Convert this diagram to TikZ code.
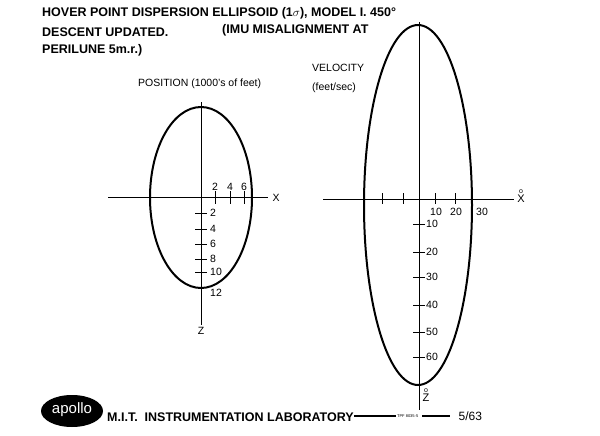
\documentclass[tikz,border=0pt]{standalone}
\usepackage{fontspec}
\setmainfont{Liberation Sans}
\begin{document}
\begin{tikzpicture}
    [
        x=1pt, y=-1pt,
        Axis/.style={line width=0.8pt},
        Curve/.style={line width=2pt},
        TickLabel/.style={font=\fontsize{10.5}{11}\selectfont, inner sep=1pt},
        DotLabel/.style={font=\fontsize{11}{9}\selectfont, inner sep=0pt, align=center},
        Heading/.style={font=\fontsize{12.5}{14}\selectfont\bfseries, anchor=west, inner sep=0pt},
        Caption/.style={font=\fontsize{10.5}{11}\selectfont, anchor=west, inner sep=0pt}
    ]
    \useasboundingbox (0,0) rectangle (600,436);

    % title
    \node[Heading] (title1) at (42,13) {HOVER POINT DISPERSION ELLIPSOID (1$\sigma$), MODEL I. 450\textdegree};
    \node[Heading] (title2) at (42,32) {DESCENT UPDATED.};
    \node[Heading] (title3) at (222,30) {(IMU MISALIGNMENT AT};
    \node[Heading] (title4) at (42,50) {PERILUNE 5m.r.)};

    % position ellipse
    \node[Caption] (position) at (138,84) {POSITION (1000's of feet)};
    \draw[Curve] (201,197.5) ellipse [x radius=51, y radius=90.5];
    \draw[Axis] (108,197) -- (268,197);
    \node[TickLabel] (posX) at (276,198) {X};
    \draw[Axis] (201,102) -- (201,325);
    \node[TickLabel] (posZ) at (201,331) {Z};
    \foreach \xx/\lab in {215/2,230/4,244/6} {
        \draw[Axis] (\xx,191) -- (\xx,204);
        \node[TickLabel] at (\xx,187) {\lab};
    }
    \foreach \yy/\lab in {213/2,229/4,244/6,259/8,272/10} {
        \draw[Axis] (195,\yy) -- (207,\yy);
        \node[TickLabel,anchor=west] at (209,\yy) {\lab};
    }
    \node[TickLabel,anchor=west] at (209,293) {12};

    % velocity ellipse
    \node[Caption] (velocity) at (312,68) {VELOCITY};
    \node[Caption] (units) at (312,88) {(feet/sec)};
    \draw[Curve] (418,205) ellipse [x radius=54, y radius=180];
    \draw[Axis] (323,199) -- (514,199);
    \node[DotLabel] (velX) at (521,196) {\scriptsize o\\X};
    \draw[Axis] (419,22) -- (419,410);
    \node[DotLabel, fill=white] (velZ) at (426,395) {\scriptsize o\\Z};
    \foreach \xx in {382,403,435,455} {
        \draw[Axis] (\xx,193) -- (\xx,204);
    }
    \foreach \xx/\lab in {436/10,456/20,482/30} {
        \node[TickLabel] at (\xx,212) {\lab};
    }
    \foreach \yy/\lab in {224/10,252/20,277/30,305/40,332/50,357/60} {
        \draw[Axis] (413,\yy) -- (425,\yy);
        \node[TickLabel,anchor=west] at (425,\yy) {\lab};
    }

    % footer
    \fill (72,411) ellipse [x radius=31, y radius=16];
    \node[font=\fontsize{15}{16}\selectfont, text=white] (apollo) at (72,410) {apollo};
    \node[Heading] (lab) at (107,417) {M.I.T.\ \ INSTRUMENTATION LABORATORY};
    \draw[line width=1.5pt] (lab.east) ++(0,-1) -- ++(42,0) coordinate (dashA);
    \node[font=\fontsize{4}{5}\selectfont, anchor=west, inner sep=1pt] (tpf) at (dashA) {TPF 8035-5};
    \draw[line width=1.5pt] (tpf.east) ++(3,0) -- ++(28,0) coordinate (dashB);
    \node[anchor=west, inner sep=0pt, font=\fontsize{12}{13}\selectfont] (date) at ([xshift=8pt]dashB) {5/63};
\end{tikzpicture}
\end{document}
